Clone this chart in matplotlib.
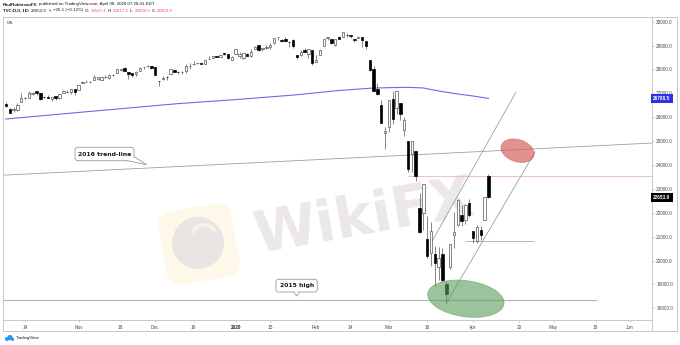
import numpy as np
import matplotlib
matplotlib.use("Agg")
import matplotlib.pyplot as plt
from matplotlib.patches import Ellipse, FancyBboxPatch, Polygon, Circle, Wedge
from matplotlib.transforms import Affine2D, IdentityTransform, blended_transform_factory

plt.rcParams['font.family'] = ['Liberation Sans', 'DejaVu Sans']

# ——— Data: DJI daily candles (x = trading days from 2019-10-14) ———
ORIGIN = "2019-10-14"
FIRST_DAY, LAST_DAY = "2019-10-07", "2020-04-07"
HOLIDAYS = ["2019-11-28", "2019-12-25", "2020-01-01", "2020-01-20",
            "2020-02-17", "2020-04-10", "2020-05-25"]

opens = [26565, 26346, 26290, 26311, 26656,
         26795, 26809, 26982, 27099, 27012,
         26834, 26850, 26760, 26878, 26794,
         27006, 27073, 27070, 27171, 27146,
         27432, 27487, 27460, 27567, 27620,
         27573, 27673, 27627, 27757, 27843,
         27994, 28062, 27886, 27831, 27807,
         27942, 28085, 28145, 28138,
         28109, 27524, 27585, 27691, 27803,
         27986, 27885, 27888, 27919, 28133,
         28213, 28265, 28286, 28242, 28442,
         28485, 28572, 28539, 28676,
         28655, 28416, 28639, 28553,
         28466, 28639, 28556, 28842, 29010,
         28857, 28891, 28926, 29121, 29340,
         29230, 29264, 29163, 29243,
         28608, 28597, 28820, 28640, 28813,
         28320, 28626, 28985, 29305, 29286,
         29019, 29351, 29365, 29457, 29441,
         29282, 29313, 29361, 29173,
         28403, 28028, 27199, 26519, 25320,
         25591, 26763, 26383, 26577, 25458,
         24993, 24454, 24604, 22184, 21974,
         20918, 20331, 20252, 19735, 20253,
         19028, 19722, 21050, 21468, 21898,
         21678, 22405, 21227, 20819, 21285,
         21693, 23537.4]
highs = [26625, 26391, 26418, 26590, 27015,
         26855, 27117, 27039, 27118, 27026,
         26898, 26944, 26836, 26881, 26981,
         27131, 27128, 27195, 27171, 27359,
         27517, 27575, 27535, 27775, 27681,
         27691, 27771, 27800, 27800, 28005,
         28036, 28090, 27886, 27831, 27918,
         28088, 28122, 28175, 28146,
         28109, 27524, 27712, 27718, 28016,
         27998, 27949, 27925, 28225, 28290,
         28337, 28290, 28331, 28377, 28582,
         28582, 28576, 28621, 28702,
         28655, 28547, 28873, 28716,
         28708, 28686, 28866, 28974, 29009,
         28908, 29009, 29129, 29298, 29374,
         29290, 29373, 29197, 29263,
         28608, 28800, 28893, 28859, 28813,
         28592, 28845, 29290, 29380, 29286,
         29277, 29416, 29569, 29525, 29441,
         29294, 29407, 29369, 29183,
         28403, 28150, 27434, 26701, 25592,
         26706, 27084, 27091, 26577, 26030,
         24993, 25020, 24604, 22837, 23186,
         21847, 21602, 20605, 20548, 20532,
         19121, 20705, 22020, 22596, 22328,
         22378, 22564, 21227, 21477, 21447,
         22680, 23617.2]
lows = [26428, 26160, 26238, 26248, 26646,
        26765, 26809, 26947, 26950, 26722,
        26811, 26786, 26697, 26722, 26761,
        27006, 27039, 26982, 26925, 27146,
        27430, 27456, 27418, 27566, 27558,
        27554, 27641, 27613, 27712, 27843,
        27938, 27936, 27613, 27698, 27736,
        27942, 28031, 28096, 28040,
        27764, 27325, 27579, 27544, 27803,
        27890, 27800, 27819, 27856, 28009,
        28191, 28220, 28232, 28208, 28431,
        28483, 28503, 28535, 28604,
        28418, 28376, 28627, 28501,
        28418, 28565, 28502, 28840, 28786,
        28777, 28856, 28871, 29071, 29253,
        29141, 29170, 28955, 28894,
        28440, 28557, 28716, 28478, 28169,
        28320, 28626, 28985, 29225, 29056,
        28990, 29264, 29365, 29371, 29321,
        29155, 29313, 28959, 28857,
        27933, 27058, 26916, 25767, 24681,
        25391, 25707, 26154, 25883, 25226,
        23706, 23690, 23328, 21154, 21285,
        20116, 19789, 18917, 19175, 19094,
        18214, 19650, 20538, 21449, 21451,
        21523, 21840, 20735, 20736, 20863,
        21693, 22634.5]
closes = [26478, 26164, 26346, 26497, 26816,
          26787, 27024, 27001, 27026, 26770,
          26828, 26788, 26833, 26806, 26958,
          27091, 27071, 27186, 27046, 27347,
          27462, 27492, 27492, 27675, 27681,
          27691, 27691, 27784, 27782, 28005,
          28036, 27934, 27821, 27767, 27876,
          28066, 28122, 28164, 28051,
          27783, 27503, 27650, 27678, 28015,
          27910, 27882, 27911, 28132, 28135,
          28235, 28268, 28239, 28377, 28455,
          28551, 28515, 28621, 28645,
          28462, 28538, 28868, 28634,
          28703, 28584, 28745, 28957, 28824,
          28908, 28940, 29030, 29298, 29348,
          29196, 29186, 29160, 28990,
          28535, 28723, 28734, 28859, 28256,
          28400, 28808, 29290, 29380, 29103,
          29276, 29276, 29551, 29423, 29398,
          29232, 29348, 29219, 28992,
          27961, 27081, 26957, 25766, 25409,
          26703, 25917, 27091, 26121, 25865,
          23851, 25018, 23553, 21200, 23185,
          20189, 21237, 19899, 20087, 19174,
          18592, 20704, 21200, 22552, 21637,
          22328, 21917, 20944, 21413, 21053,
          22680, 22653.9]

# 200-day MA
ma_x = [-5, 10, 25, 40, 55, 70, 82, 91, 100, 104, 108, 113, 117, 121]
ma_vals = [25925, 26143, 26357, 26570, 26738, 26926, 27120, 27224,
           27253, 27224, 27098, 26972, 26889, 26788.5]

tick_dates = ["2019-10-14", "2019-11-01", "2019-11-18", "2019-12-02", "2019-12-16",
              "2020-01-02", "2020-01-15", "2020-02-03", "2020-02-14", "2020-03-02",
              "2020-03-16", "2020-04-01", "2020-04-20", "2020-05-01", "2020-05-18",
              "2020-06-01"]
tick_labels = ["14", "Nov", "18", "Dec", "16", "2020", "15", "Feb", "14", "Mar",
               "16", "Apr", "20", "May", "18", "Jun"]
price_ticks = list(range(18000, 30001, 1000))

# drawings (x in trading days, y in points)
trend_2016 = [(-5, 23578), (158, 24874)]
high_2015 = 18351
high_2015_span = (-5.75, 149.3)
pink_level, pink_start = 23537, 100
support_level, support_span = 20829, (115, 133)
channel_upper = [(106.2, 20787), (128.1, 27027)]
channel_lower = [(110, 18214), (133.2, 24556)]
red_zone = (128.6, 24598)
green_zone = (115.1, 18400)

# ——— Figure ———
fig = plt.figure(figsize=(6.8, 3.45), dpi=100)
ax = fig.add_axes([3 / 680, 1 - 319.7 / 345, 649 / 680, (319.7 - 17) / 345])
ov = fig.add_axes([0, 0, 1, 1], zorder=5)
ov.set_xlim(0, 680)
ov.set_ylim(345, 0)
ov.axis("off")

ax.set_xlim(-5.75, 163.7)
ax.set_ylim(17521, 30197)

days = np.arange(np.datetime64(FIRST_DAY), np.datetime64(LAST_DAY) + 1)
days = days[np.is_busday(days, holidays=HOLIDAYS)]
x = np.busday_count(ORIGIN, days, holidays=HOLIDAYS)
o, h, l, c = map(np.array, (opens, highs, lows, closes))
up = c >= o

# watermark (behind the candles)
ax.text(364, 218, "WikiFX", transform=ov.transData, fontsize=41, fontweight="bold",
        family="DejaVu Sans", color="#ece8e8", rotation=10, ha="center", va="center",
        rotation_mode="anchor", zorder=0.5)
rot = Affine2D().rotate_deg_around(199, 244, -10) + ov.transData
ax.add_patch(FancyBboxPatch((162, 207), 74, 74, boxstyle="round,pad=0,rounding_size=14",
                            fc="#fdf8e8", ec="none", transform=rot, zorder=0.4))
ax.add_patch(Circle((198, 243), 26, fc="#e8e5e3", ec="none", transform=ov.transData, zorder=0.45))
ax.add_patch(Wedge((204, 238), 15, 200, 330, width=4, fc="#f6f2ea", ec="none",
                   transform=ov.transData, zorder=0.46))

# candles
ax.vlines(x, l, h, color="#555555", lw=0.5, zorder=2)
ax.bar(x[up], (c - o)[up], bottom=o[up], width=0.62, fc="white", ec="#555555", lw=0.5, zorder=3)
ax.bar(x[~up], (c - o)[~up], bottom=o[~up], width=0.62, fc="black", ec="black", lw=0.5, zorder=3)

ax.plot(ma_x, ma_vals, color="#6a6ae6", lw=0.8, zorder=2.5)

# drawings
ax.axline(trend_2016[0], trend_2016[1], color="#a0a0a0", lw=0.6, zorder=1.5)
ax.hlines(high_2015, *high_2015_span, color="#b4b4b4", lw=0.8, zorder=1.5)
ax.hlines(pink_level, pink_start, 163.7, color="#e8b8b8", lw=0.6, zorder=1.5)
ax.hlines(support_level, *support_span, color="#9a9a9a", lw=0.5, zorder=1.5)
for seg in (channel_upper, channel_lower):
    ax.plot([seg[0][0], seg[1][0]], [seg[0][1], seg[1][1]], color="#8c8c8c", lw=0.5, zorder=1.6)


def zone(center, w, h, angle, color, alpha):
    cx, cy = ax.transData.transform(center)
    ax.add_patch(Ellipse((cx, cy), w, h, angle=angle, transform=IdentityTransform(),
                         fc=color, ec=color, alpha=alpha, lw=0.6, zorder=4))


zone(red_zone, 34, 22, -18, "#d65c5c", 0.68)
zone(green_zone, 77, 36, -8, "#5a9e5a", 0.6)

# axes styling
for s in ax.spines.values():
    s.set_color("#c8c8c8")
    s.set_linewidth(0.7)
ax.yaxis.tick_right()
ax.set_yticks(price_ticks)
ax.set_yticklabels([f"{v:.1f}" for v in price_ticks])
tick_x = np.busday_count(ORIGIN, np.array(tick_dates, dtype="datetime64[D]"), holidays=HOLIDAYS)
ax.set_xticks(tick_x)
ax.set_xticklabels(tick_labels)
ax.tick_params(axis="both", labelsize=3.4, colors="#b0b0b0", labelcolor="#4a4a4a",
               length=1.5, width=0.5)
ax.tick_params(axis="y", pad=1.5)
ax.tick_params(axis="x", pad=2)
for t in ax.get_xticklabels():
    if t.get_text() == "2020":
        t.set_fontweight("bold")
        t.set_color("#222222")

trans = blended_transform_factory(ax.transAxes, ax.transData)
for val, bg in ((ma_vals[-1], "#2f31e6"), (closes[-1], "#000000")):
    ax.text(1.002, val, f"{val:.1f}", transform=trans, ha="left", va="center", fontsize=3.4,
            color="white", fontweight="bold", clip_on=False, zorder=10,
            bbox=dict(boxstyle="square,pad=0.45", fc=bg, ec="none"))

# ——— Overlay: frame, header, callouts ———
frame = dict(color="#c8c8c8", lw=0.7)
ov.plot([3, 677], [331, 331], **frame)
ov.plot([3, 3], [319.7, 331], **frame)
ov.plot([652, 652], [319.7, 331], **frame)
ov.plot([677, 677], [17, 331], **frame)
ov.plot([652, 677], [17, 17], **frame)

renderer = fig.canvas.get_renderer()


def chain(xpos, ypos, parts, size=3.2):
    for s, color, weight in parts:
        t = ov.text(xpos, ypos, s, color=color, fontsize=size, fontweight=weight,
                    ha="left", va="center")
        xpos += t.get_window_extent(renderer=renderer).width + 1.2


dark, red = "#131722", "#ef5350"
chain(3, 4.5, [("PaulRobinsonFX", dark, "bold"),
               ("published on TradingView.com, April 08, 2020 07:28:41 EDT", dark, "normal")])
chain(3, 10.5, [("TVC:DJI, 1D:", dark, "bold"), ("22653.9", dark, "normal"),
                ("▼", red, "normal"), ("\u221226.1 (\u22120.12%)", dark, "normal"),
                ("O:", dark, "normal"), ("23537.4", red, "normal"),
                ("H:", dark, "normal"), ("23617.2", red, "normal"),
                ("L:", dark, "normal"), ("22634.5", red, "normal"),
                ("C:", dark, "normal"), ("22653.9", red, "normal")])
ov.text(7, 23, "MA", fontsize=3.0, color="#555555", ha="left", va="center")


def callout(text, box, base, tip):
    x0, y0, x1, y1 = box
    ov.add_patch(FancyBboxPatch((x0, y0), x1 - x0, y1 - y0,
                                boxstyle="round,pad=0,rounding_size=2.5",
                                fc="white", ec="#9a9a9a", lw=0.6))
    ov.add_patch(Polygon([base[0], tip, base[1]], closed=False, fc="white",
                         ec="#9a9a9a", lw=0.6))
    ov.text((x0 + x1) / 2, (y0 + y1) / 2 + 0.3, text, fontsize=4.4, fontweight="bold",
            family="DejaVu Sans", color=dark, ha="center", va="center")


callout("2016 trend-line", (75, 147.3, 134, 160.7), [(126, 160.4), (133.7, 156.5)], (146.7, 164.7))
callout("2015 high", (276, 279.3, 317.3, 292), [(293.5, 291.7), (299.5, 291.7)], (296.7, 296))

# TradingView footer
ov.add_patch(Circle((7, 339), 2.0, fc="#2196f3", ec="none"))
ov.add_patch(Circle((10, 337.6), 2.6, fc="#2196f3", ec="none"))
ov.add_patch(Circle((12.5, 339.3), 1.6, fc="#2196f3", ec="none"))
ov.text(15.5, 338.5, "TradingView", fontsize=3.2, color=dark, ha="left", va="center")

fig.savefig("out.png", dpi=100, facecolor="white")
